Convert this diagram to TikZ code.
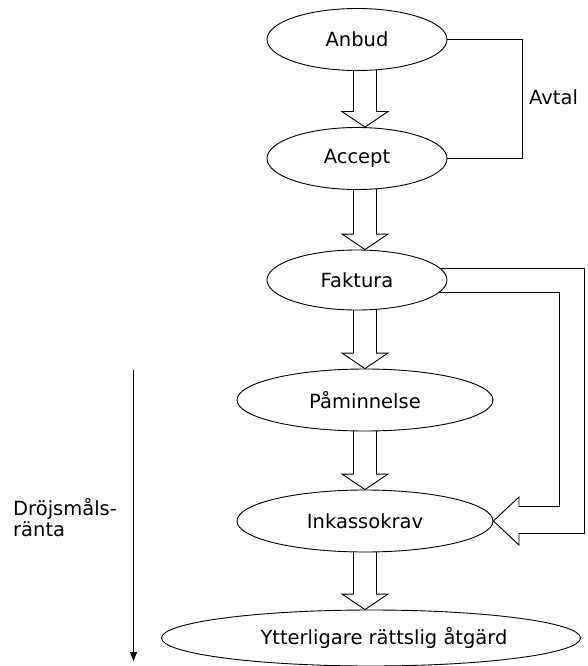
\documentclass[tikz,border=0pt]{standalone}
\usepackage{fontspec}
\setmainfont{DejaVu Sans}
\usetikzlibrary{shapes.geometric,calc,backgrounds,arrows.meta}

% Hollow block arrow pointing down from node #1 to node #2 (axis at x = 365pt)
\newcommand\blockdown[2]{%
  \draw[outline,fill=white] let \p1=(#1.south), \p2=(#2.north) in
    (353.5pt,\y1+6pt) -- (353.5pt,\y2+15.5pt) -- (342pt,\y2+15.5pt) -- (365pt,\y2)
    -- (388pt,\y2+15.5pt) -- (376.5pt,\y2+15.5pt) -- (376.5pt,\y1+6pt);}

\begin{document}
\begin{tikzpicture}[x=1pt,y=1pt,
  lbl/.style={font=\fontsize{19.5}{21}\selectfont},
  stage/.style={ellipse,draw,fill=white,inner sep=0pt,line width=0.9pt,lbl},
  outline/.style={draw,line width=0.9pt,line join=miter},
  ]
\useasboundingbox (0,0) rectangle (587,-666);

% process stages
\node[stage,minimum width=180pt,minimum height=62pt] (anbud)   at (357,-39.5)  {Anbud};
\node[stage,minimum width=180pt,minimum height=62pt] (accept)  at (357,-158.5) {Accept};
\node[stage,minimum width=180pt,minimum height=60pt] (faktura) at (357,-280) {Faktura};
\node[stage,minimum width=256pt,minimum height=62pt] (pamin)   at (365,-400) {Påminnelse};
\node[stage,minimum width=256pt,minimum height=62pt] (inkasso) at (365,-521) {Inkassokrav};
\node[stage,minimum width=419pt,minimum height=56pt] (ytter)   at (371,-638)
  {\hspace*{26pt}Ytterligare rättslig åtgärd};

% agreement bracket
\node[lbl,anchor=west,inner sep=0pt] (avtal) at (529,-97) {Avtal};
\draw[outline] (anbud.east) -- (522.5,-39.5) -- (522.5,-158.5) -- (accept.east);

% interest label and time arrow
\coordinate (ttop) at (133.5,-370);
\coordinate (tend) at (133.5,-661);
\draw[line width=0.9pt,-{Triangle[width=7pt,length=9pt]}] (ttop) -- (tend);
\node[lbl,anchor=west,align=left,inner sep=0pt] (drojs) at (13,-518) {Dröjsmåls-\\ränta};

\begin{scope}[on background layer]
  \blockdown{anbud}{accept}
  \blockdown{accept}{faktura}
  \blockdown{faktura}{pamin}
  \blockdown{pamin}{inkasso}
  \blockdown{inkasso}{ytter}
  % bent block arrow from the invoice straight to debt collection
  \draw[outline] let \p1=(faktura.center), \p2=(inkasso.east) in
    (\x1,\y1+11.5pt) -- (584.5pt,\y1+11.5pt) -- (584.5pt,\y2-12.5pt) -- (\x2+25.5pt,\y2-12.5pt)
    -- (\x2+25.5pt,\y2-24pt) -- (\x2,\y2) -- (\x2+25.5pt,\y2+24pt) -- (\x2+25.5pt,\y2+14.5pt)
    -- (559.5pt,\y2+14.5pt) -- (559.5pt,\y1-12.5pt) -- (\x1,\y1-12.5pt);
\end{scope}
\end{tikzpicture}
\end{document}
